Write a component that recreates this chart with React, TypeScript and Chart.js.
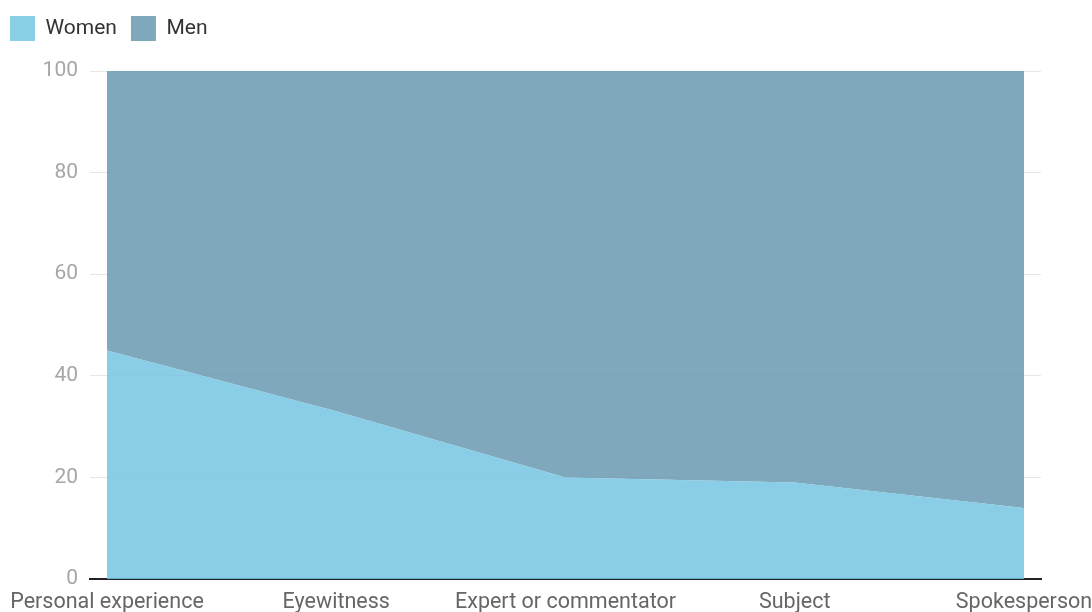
import React, { useEffect, useRef } from "react";
import { Chart, registerables } from "chart.js";

Chart.register(...registerables);

const categories = ["Personal experience", "Eyewitness", "Expert or commentator", "Subject", "Spokesperson"];
const womenValues = [45, 33, 20, 19, 14];
const menValues = [55, 67, 80, 81, 86];
const yTicks = [0, 20, 40, 60, 80, 100];

const legendGap = {
  id: "legendGap",
  beforeInit(chart: any) {
    const fit = chart.legend.fit;
    chart.legend.fit = function () {
      fit.call(this);
      this.height += 20;
    };
  },
};

export default function App() {
  const ref = useRef<HTMLCanvasElement | null>(null);

  useEffect(() => {
    if (!ref.current) return;
    const font = "Roboto, 'Noto Sans', sans-serif";
    const chart = new Chart(ref.current, {
      type: "line",
      plugins: [legendGap],
      data: {
        datasets: [
          {
            label: "Women",
            data: womenValues.map((v, i) => ({ x: i, y: v })),
            backgroundColor: "rgba(116,198,226,0.85)",
            borderColor: "rgba(116,198,226,0)",
            borderWidth: 0,
            pointRadius: 0,
            fill: "origin",
            tension: 0,
          },
          {
            label: "Men",
            data: menValues.map((v, i) => ({ x: i, y: v })),
            backgroundColor: "rgba(104,153,177,0.85)",
            borderColor: "rgba(104,153,177,0)",
            borderWidth: 0,
            pointRadius: 0,
            fill: "-1",
            tension: 0,
          },
        ],
      },
      options: {
        animation: false,
        responsive: true,
        maintainAspectRatio: false,
        layout: { padding: { top: 2, right: 59, left: -4, bottom: 0 } },
        plugins: {
          legend: {
            position: "top",
            align: "start",
            labels: {
              boxWidth: 25,
              boxHeight: 25,
              padding: 14,
              color: "#333",
              font: { family: font, size: 21 },
              generateLabels: (c: any) =>
                c.data.datasets.map((d: any, i: number) => ({
                  text: d.label,
                  fillStyle: i === 0 ? "#89cfe6" : "#7fa8bd",
                  strokeStyle: "rgba(0,0,0,0)",
                  lineWidth: 0,
                  datasetIndex: i,
                  fontColor: "#333",
                })),
            },
          },
          tooltip: { enabled: false },
        },
        scales: {
          x: {
            type: "linear",
            min: -0.0742,
            max: 4.0742,
            grid: { display: false, drawTicks: false },
            border: { display: true, color: "#222", width: 2 },
            afterFit: (s: any) => {
              s.height = 41;
              s.paddingLeft = 0;
              s.paddingRight = 0;
            },
            ticks: {
              stepSize: 1,
              includeBounds: false,
              autoSkip: false,
              maxRotation: 0,
              padding: 11,
              color: "#666",
              font: { family: font, size: 21.5 },
              callback: (v: any) => {
                const n = Number(v);
                return Number.isInteger(n) && categories[n] !== undefined ? categories[n] : "";
              },
            },
          },
          y: {
            stacked: true,
            min: 0,
            max: 100,
            afterFit: (s: any) => {
              s.width = 94;
            },
            afterBuildTicks: (s: any) => {
              s.ticks = yTicks.map((v) => ({ value: v }));
            },
            grid: { color: "#e6e6e6", drawTicks: false, lineWidth: 1 },
            border: { display: false },
            ticks: {
              padding: 12,
              color: "#a6a6a6",
              font: { family: font, size: 21 },
            },
          },
        },
      },
    });
    return () => chart.destroy();
  }, []);

  return (
    <div style={{ position: "fixed", left: 0, top: 0, width: 1092, height: 612, overflow: "hidden", background: "#fff" }}>
      <div style={{ position: "absolute", left: 0, top: 0, width: 1100, height: 620 }}>
        <canvas ref={ref} />
      </div>
    </div>
  );
}
